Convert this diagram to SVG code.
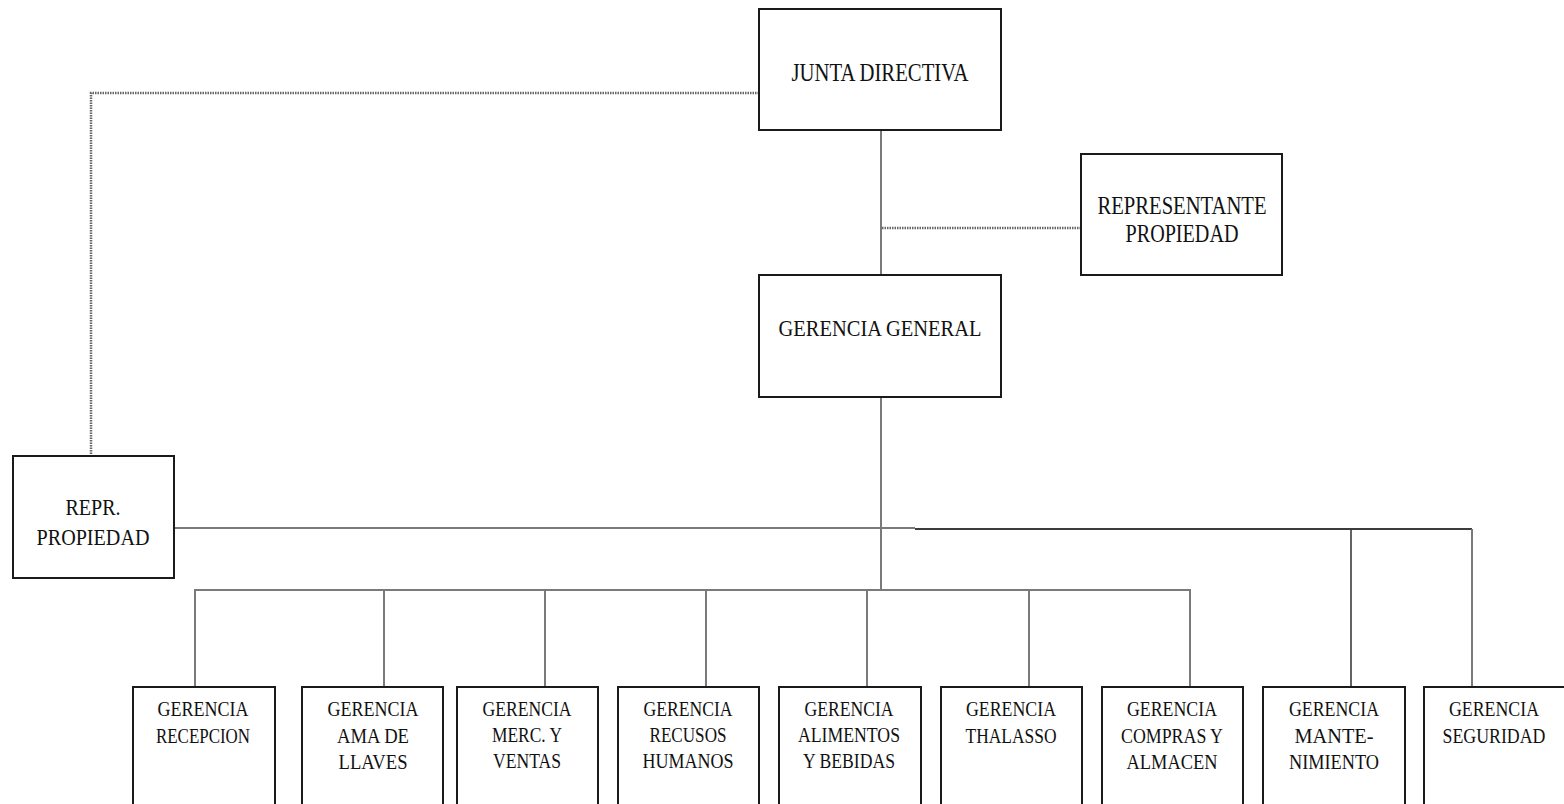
<svg xmlns="http://www.w3.org/2000/svg" width="1564" height="804" viewBox="0 0 1564 804">
  <style>
    .box { fill: #ffffff; stroke: #1a1a1a; stroke-width: 2; }
    .lbl { font-family: "Liberation Serif", "Times New Roman", serif; fill: #111111; text-anchor: middle; }
    .top { font-size: 26px; }
    .mid { font-size: 23px; }
    .low { font-size: 21px; }
    .solid { fill: none; stroke: #7a7a7a; stroke-width: 2; }
    .dark { fill: none; stroke: #3c3c3c; stroke-width: 2; }
    .dotted { fill: none; stroke: #666666; stroke-width: 2.5; stroke-dasharray: 1.5 1; }
  </style>
  <rect width="1564" height="804" fill="#ffffff"/>

  <!-- reporting lines -->
  <g id="connectors">
    <path class="solid" d="M881 130 V275"/>
    <path class="dotted" d="M882 228 H1081"/>
    <path class="dotted" d="M759 93 H91 V456"/>
    <path class="solid" d="M881 397 V590"/>
    <path class="solid" d="M174 528 H915"/>
    <path class="dark" d="M915 529 H1472"/>
    <path class="dark" d="M1351 529 V687" style="stroke-width:1.6"/>
    <path class="solid" d="M1472 529 V687"/>
    <path class="solid" d="M195 687 V590 H1190 V687"/>
    <path class="solid" d="M384 590 V687"/>
    <path class="solid" d="M545 590 V687"/>
    <path class="solid" d="M706 590 V687"/>
    <path class="solid" d="M867 590 V687"/>
    <path class="solid" d="M1029 590 V687"/>
  </g>

  <g id="junta-directiva">
    <rect class="box" x="759" y="9" width="242" height="121"/>
    <text class="lbl top" x="880" y="81" textLength="177" lengthAdjust="spacingAndGlyphs">JUNTA DIRECTIVA</text>
  </g>

  <g id="representante-propiedad">
    <rect class="box" x="1081" y="154" width="201" height="121"/>
    <text class="lbl top" x="1182" y="214" textLength="169" lengthAdjust="spacingAndGlyphs">REPRESENTANTE</text>
    <text class="lbl top" x="1182" y="242" textLength="113" lengthAdjust="spacingAndGlyphs">PROPIEDAD</text>
  </g>

  <g id="gerencia-general">
    <rect class="box" x="759" y="275" width="242" height="122"/>
    <text class="lbl mid" x="880" y="336" textLength="203" lengthAdjust="spacingAndGlyphs">GERENCIA GENERAL</text>
  </g>

  <g id="repr-propiedad">
    <rect class="box" x="13" y="456" width="161" height="122"/>
    <text class="lbl mid" x="93" y="515" textLength="55" lengthAdjust="spacingAndGlyphs">REPR.</text>
    <text class="lbl mid" x="93" y="545" textLength="113" lengthAdjust="spacingAndGlyphs">PROPIEDAD</text>
  </g>

  <g id="gerencia-recepcion">
    <rect class="box" x="133" y="687" width="142" height="130"/>
    <text class="lbl low" x="203" y="716" textLength="91" lengthAdjust="spacingAndGlyphs">GERENCIA</text>
    <text class="lbl low" x="203" y="743" textLength="94" lengthAdjust="spacingAndGlyphs">RECEPCION</text>
  </g>

  <g id="gerencia-ama-de-llaves">
    <rect class="box" x="302" y="687" width="141" height="130"/>
    <text class="lbl low" x="373" y="716" textLength="91" lengthAdjust="spacingAndGlyphs">GERENCIA</text>
    <text class="lbl low" x="373" y="743" textLength="72" lengthAdjust="spacingAndGlyphs">AMA DE</text>
    <text class="lbl low" x="373" y="769" textLength="69" lengthAdjust="spacingAndGlyphs">LLAVES</text>
  </g>

  <g id="gerencia-merc-ventas">
    <rect class="box" x="457" y="687" width="141" height="130"/>
    <text class="lbl low" x="527" y="716" textLength="89" lengthAdjust="spacingAndGlyphs">GERENCIA</text>
    <text class="lbl low" x="527" y="742" textLength="70" lengthAdjust="spacingAndGlyphs">MERC. Y</text>
    <text class="lbl low" x="527" y="768" textLength="68" lengthAdjust="spacingAndGlyphs">VENTAS</text>
  </g>

  <g id="gerencia-recursos-humanos">
    <rect class="box" x="618" y="687" width="141" height="130"/>
    <text class="lbl low" x="688" y="716" textLength="89" lengthAdjust="spacingAndGlyphs">GERENCIA</text>
    <text class="lbl low" x="688" y="742" textLength="77" lengthAdjust="spacingAndGlyphs">RECUSOS</text>
    <text class="lbl low" x="688" y="768" textLength="91" lengthAdjust="spacingAndGlyphs">HUMANOS</text>
  </g>

  <g id="gerencia-alimentos-bebidas">
    <rect class="box" x="779" y="687" width="142" height="130"/>
    <text class="lbl low" x="849" y="716" textLength="89" lengthAdjust="spacingAndGlyphs">GERENCIA</text>
    <text class="lbl low" x="849" y="742" textLength="102" lengthAdjust="spacingAndGlyphs">ALIMENTOS</text>
    <text class="lbl low" x="849" y="768" textLength="92" lengthAdjust="spacingAndGlyphs">Y BEBIDAS</text>
  </g>

  <g id="gerencia-thalasso">
    <rect class="box" x="941" y="687" width="141" height="130"/>
    <text class="lbl low" x="1011" y="716" textLength="90" lengthAdjust="spacingAndGlyphs">GERENCIA</text>
    <text class="lbl low" x="1011" y="743" textLength="91" lengthAdjust="spacingAndGlyphs">THALASSO</text>
  </g>

  <g id="gerencia-compras-almacen">
    <rect class="box" x="1102" y="687" width="141" height="130"/>
    <text class="lbl low" x="1172" y="716" textLength="90" lengthAdjust="spacingAndGlyphs">GERENCIA</text>
    <text class="lbl low" x="1172" y="743" textLength="102" lengthAdjust="spacingAndGlyphs">COMPRAS Y</text>
    <text class="lbl low" x="1172" y="769" textLength="91" lengthAdjust="spacingAndGlyphs">ALMACEN</text>
  </g>

  <g id="gerencia-mantenimiento">
    <rect class="box" x="1263" y="687" width="142" height="130"/>
    <text class="lbl low" x="1334" y="716" textLength="90" lengthAdjust="spacingAndGlyphs">GERENCIA</text>
    <text class="lbl low" x="1334" y="743" textLength="79" lengthAdjust="spacingAndGlyphs">MANTE-</text>
    <text class="lbl low" x="1334" y="769" textLength="90" lengthAdjust="spacingAndGlyphs">NIMIENTO</text>
  </g>

  <g id="gerencia-seguridad">
    <rect class="box" x="1424" y="687" width="142" height="130"/>
    <text class="lbl low" x="1494" y="716" textLength="90" lengthAdjust="spacingAndGlyphs">GERENCIA</text>
    <text class="lbl low" x="1494" y="743" textLength="103" lengthAdjust="spacingAndGlyphs">SEGURIDAD</text>
  </g>
</svg>
